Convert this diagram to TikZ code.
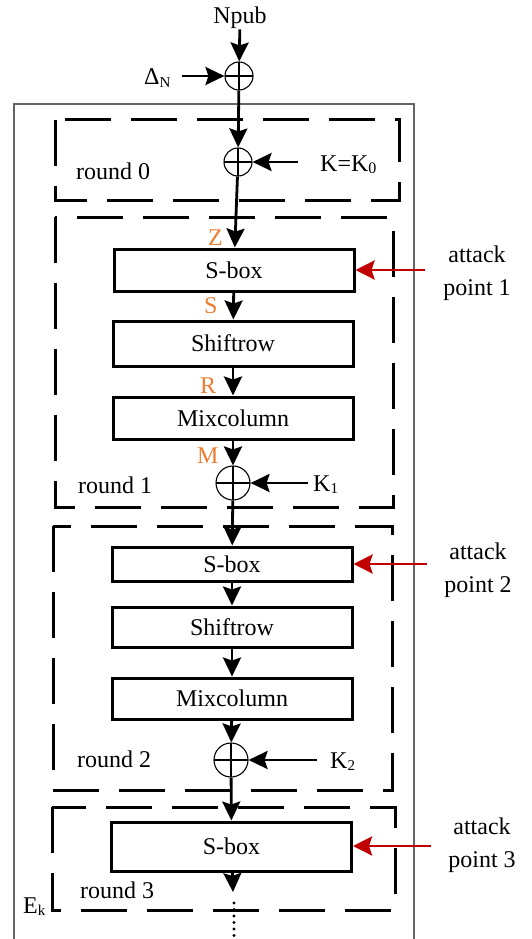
\documentclass[tikz,border=0pt]{standalone}
\usepackage{fontspec}
\setmainfont{Liberation Serif}
\usetikzlibrary{arrows.meta}
\definecolor{attackred}{RGB}{192,0,0}
\definecolor{varorange}{RGB}{237,125,49}
\definecolor{framegray}{RGB}{100,100,100}
% small lowered index (K_0, Delta_N, E_k)
\newcommand\lowidx[2][15]{\raisebox{-2.5pt}{\fontsize{#1}{#1}\selectfont #2}}

\begin{document}
\begin{tikzpicture}[x=1pt,y=-1pt,
  every node/.style={font=\fontsize{24}{33}\selectfont, inner sep=0pt},
  opbox/.style={draw, line width=3pt, minimum width=240pt, inner sep=0pt},
  xorgate/.style={draw, circle, line width=1.1pt, inner sep=0pt,
    path picture={\draw[line width=1.1pt]
      (path picture bounding box.north) -- (path picture bounding box.south)
      (path picture bounding box.west) -- (path picture bounding box.east);}},
  flow/.style={line width=2.8pt, -{Stealth[length=19pt,width=18pt,inset=3pt]}},
  attackarrow/.style={attackred, line width=2.8pt, -{Stealth[length=19pt,width=19pt,inset=3pt]}},
  roundbox/.style={line width=3pt, dash pattern=on 46pt off 20pt},
  varlabel/.style={text=varorange, anchor=base west},
  lbl/.style={anchor=base west},
  attacklbl/.style={align=center},
]
\useasboundingbox (0,0) rectangle (531,939);

% outer frame of the cipher E_k
\draw[framegray, line width=1.2pt] (14,945) |- (414,104) -- (414,945);

% dashed round frames
\draw[roundbox] (55,120) rectangle (399,200);
\draw[roundbox] (55,217) rectangle (393,507);
\draw[roundbox] (53,526) rectangle (392,790);
\draw[roundbox] (52,807) rectangle (395,910);

% inputs
\node[anchor=base] (npub) at (240,24) {Npub};
\node[lbl] (dn) at (144,85) {Δ\lowidx{N}};
\node[xorgate, minimum size=28pt] (x1) at (239,76) {};
\node[xorgate, minimum size=28pt] (x2) at (238,162) {};
\node[lbl] (k0) at (320,171) {K=K\lowidx[16]{0}};
\node[lbl] (r0) at (76,179) {round 0};

% round 1
\node[opbox, minimum height=42pt] (sbox1) at (234,270) {S-box};
\node[opbox, minimum height=45pt] (shift1) at (233,343.5) {Shiftrow};
\node[opbox, minimum height=42pt] (mix1) at (233,418) {Mixcolumn};
\node[xorgate, minimum size=34pt] (x3) at (233,483) {};
\node[lbl] (k1) at (313,491) {K\lowidx{1}};
\node[lbl] (r1) at (78,493) {round 1};
\node[varlabel] (vz) at (208,245) {Z};
\node[varlabel] (vs) at (204,313) {S};
\node[varlabel] (vr) at (200,393) {R};
\node[varlabel] (vm) at (197,463) {M};

% round 2
\node[opbox, minimum height=34pt] (sbox2) at (232,564) {S-box};
\node[opbox, minimum height=40pt] (shift2) at (232,627) {Shiftrow};
\node[opbox, minimum height=41pt] (mix2) at (232,698.5) {Mixcolumn};
\node[xorgate, minimum size=34pt] (x4) at (231,760) {};
\node[lbl] (k2) at (330,768) {K\lowidx{2}};
\node[lbl] (r2) at (77,767) {round 2};

% round 3
\node[opbox, minimum height=49pt] (sbox3) at (231.5,846.5) {S-box};
\node[lbl] (r3) at (80,898) {round 3};
\node[lbl] (ek) at (23,913) {E\lowidx{k}};
\coordinate (tail) at (233,892);
\coordinate (dotsA) at (234,903);
\coordinate (dotsB) at (234,938);

% attack points
\node[attacklbl] (a1) at (477,273) {attack\\point 1};
\node[attacklbl] (a2) at (478,570) {attack\\point 2};
\node[attacklbl] (a3) at (482,845) {attack\\point 3};
\coordinate (ap1) at (425,270);
\coordinate (ap2) at (427,564);
\coordinate (ap3) at (431,846);

% data path
\draw[flow] (npub) -- (x1);
\draw[flow, shorten <=11pt] (dn.east |- x1) -- (x1);
\draw[flow] (x1) -- (x2);
\draw[flow, shorten <=22pt] (k0.west |- x2) -- (x2);
\draw[flow] (x2) -- (sbox1);
\draw[flow] (sbox1) -- (shift1);
\draw[flow] (shift1) -- (mix1);
\draw[flow] (mix1) -- (x3);
\draw[flow, shorten <=5pt] (k1.west |- x3) -- (x3);
\draw[flow] (x3) -- (sbox2);
\draw[flow] (sbox2) -- (shift2);
\draw[flow] (shift2) -- (mix2);
\draw[flow] (mix2) -- (x4);
\draw[flow, shorten <=13pt] (k2.west |- x4) -- (x4);
\draw[flow] (x4) -- (sbox3);
\draw[flow] (sbox3) -- (tail);
\draw[line width=3.2pt, line cap=round, dash pattern=on 0pt off 6.5pt] (dotsA) -- (dotsB);

% fault injection arrows
\draw[attackarrow] (ap1) -- (ap1 -| sbox1.east);
\draw[attackarrow] (ap2) -- (ap2 -| sbox2.east);
\draw[attackarrow] (ap3) -- (ap3 -| sbox3.east);
\end{tikzpicture}
\end{document}
